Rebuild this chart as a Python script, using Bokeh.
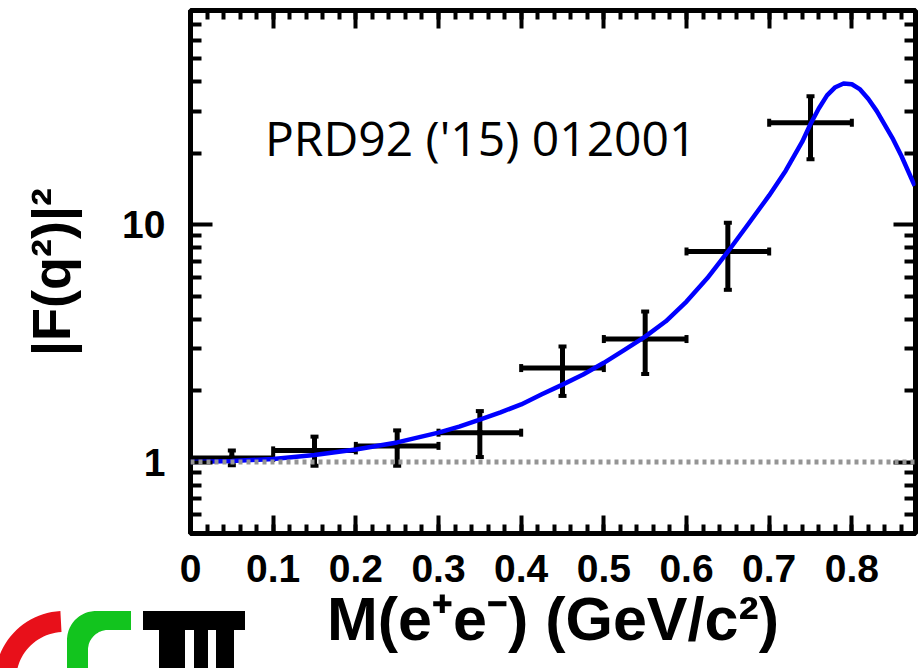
import numpy as np
from bokeh.plotting import figure
from bokeh.layouts import column
from bokeh.models import (ColumnDataSource, Whisker, TeeHead, Span, Label, LinearAxis, LogAxis,
                          FixedTicker, BasicTickFormatter, Range1d, Div)
from bokeh.embed import file_html
from bokeh.resources import INLINE

# ---------------- data ----------------
mass = [0.05, 0.15, 0.25, 0.35, 0.45, 0.55, 0.65, 0.75]
mass_err = [0.05, 0.05, 0.05, 0.05, 0.05, 0.05, 0.05, 0.05]
ff2 = [1.04, 1.12, 1.17, 1.33, 2.49, 3.30, 7.72, 26.9]
ff2_hi = [1.12, 1.28, 1.36, 1.64, 3.07, 4.31, 10.2, 34.8]
ff2_lo = [0.97, 0.965, 0.965, 1.05, 1.90, 2.35, 5.32, 18.9]

fit_mass = [0.0, 0.05, 0.10, 0.15, 0.20, 0.25, 0.30, 0.325, 0.35, 0.375, 0.40, 0.425,
            0.45, 0.475, 0.50, 0.525, 0.55, 0.575, 0.60, 0.625, 0.65, 0.675, 0.70,
            0.72, 0.74, 0.75, 0.76, 0.77, 0.78, 0.79, 0.80, 0.81, 0.82, 0.83, 0.84,
            0.85, 0.86, 0.876]
fit_ff2 = [1.00, 1.01, 1.03, 1.07, 1.13, 1.21, 1.33, 1.41, 1.51, 1.62, 1.75, 1.93,
           2.12, 2.34, 2.62, 2.97, 3.38, 3.92, 4.75, 5.95, 7.7, 10.1, 13.3,
           16.9, 22.4, 26.6, 30.9, 35.1, 38.0, 39.4, 39.1, 37.2, 33.9, 30.2, 26.3,
           22.9, 19.5, 14.6]

x_ticks = [0.0, 0.1, 0.2, 0.3, 0.4, 0.5, 0.6, 0.7, 0.8]
x_tick_labels = ["0", "0.1", "0.2", "0.3", "0.4", "0.5", "0.6", "0.7", "0.8"]
x_minor = [round(0.02 * i, 2) for i in range(0, 44)]
y_ticks = [1, 10]
y_tick_labels = ["1", "10"]
y_minor = [0.5, 0.6, 0.7, 0.8, 0.9, 2, 3, 4, 5, 6, 7, 8, 9, 20, 30, 40, 50, 60, 70, 80]

x_lim = (0.0, 0.877)
y_lim = (0.5, 80)
ref_level = 1.0

title_text = "PRD92 ('15) 012001"
x_title = "M(e\u207ae\u207b) (GeV/c\u00b2)"
y_title = "|F(q\u00b2)|\u00b2"

# ---------------- figure ----------------
FL, FR, FT, FB = 190, 8, 10, 135
FW, FH = 725, 523
p = figure(frame_width=FW, frame_height=FH, y_axis_type="log",
           x_range=Range1d(*x_lim), y_range=Range1d(*y_lim),
           output_backend="svg", toolbar_location=None,
           min_border_left=FL, min_border_right=FR, min_border_top=FT, min_border_bottom=FB,
           background_fill_color="white", border_fill_color="white")
p.xgrid.visible = False
p.ygrid.visible = False
p.outline_line_color = "black"
p.outline_line_width = 5

xt = FixedTicker(ticks=x_ticks, minor_ticks=x_minor)
yt = FixedTicker(ticks=y_ticks, minor_ticks=y_minor)
x_over = {t: l for t, l in zip(x_ticks, x_tick_labels)}
x_over[0] = "0"
y_over = {t: l for t, l in zip(y_ticks, y_tick_labels)}

FONT = "Liberation Sans"


def style_axis(ax, ticker, overrides, tick_major, tick_minor, labels=True, standoff=20):
    ax.ticker = ticker
    ax.axis_line_color = None
    ax.major_tick_in = tick_major
    ax.major_tick_out = 0
    ax.minor_tick_in = tick_minor
    ax.minor_tick_out = 0
    ax.major_tick_line_width = 4
    ax.minor_tick_line_width = 4
    ax.major_tick_line_color = "black"
    ax.minor_tick_line_color = "black"
    if labels:
        ax.major_label_overrides = overrides
        ax.major_label_text_font = FONT
        ax.major_label_text_font_style = "bold"
        ax.major_label_text_font_size = "39px"
        ax.major_label_text_color = "black"
        ax.major_label_standoff = standoff
    else:
        ax.major_label_overrides = {k: "" for k in overrides}
        ax.major_label_text_font_size = "10px"
        ax.major_label_standoff = 0


style_axis(p.xaxis[0], xt, x_over, 18, 9, standoff=21)
p.yaxis[0].formatter = BasicTickFormatter()
style_axis(p.yaxis[0], yt, y_over, 22, 11, standoff=25)
p.xaxis[0].axis_label = x_title
p.xaxis[0].axis_label_text_font = FONT
p.xaxis[0].axis_label_text_font_style = "bold"
p.xaxis[0].axis_label_text_font_size = "61px"
p.xaxis[0].axis_label_text_color = "black"
p.xaxis[0].axis_label_standoff = 0
p.yaxis[0].axis_label = y_title
p.yaxis[0].axis_label_text_font = FONT
p.yaxis[0].axis_label_text_font_style = "bold"
p.yaxis[0].axis_label_text_font_size = "54px"
p.yaxis[0].axis_label_text_color = "black"
p.yaxis[0].axis_label_standoff = 38

top_ax = LinearAxis()
style_axis(top_ax, xt, x_over, 18, 9, labels=False)
p.add_layout(top_ax, "above")
right_ax = LogAxis(formatter=BasicTickFormatter())
style_axis(right_ax, yt, y_over, 22, 11, labels=False)
p.add_layout(right_ax, "right")

# reference line at 1
p.add_layout(Span(location=ref_level, dimension="width", line_color="#959595",
                  line_width=5, line_dash="4 4"))

# error bars
src = ColumnDataSource(dict(
    x=mass, y=ff2, lo=ff2_lo, hi=ff2_hi,
    xlo=[m - e for m, e in zip(mass, mass_err)],
    xhi=[m + e for m, e in zip(mass, mass_err)]))
head = dict(size=8, line_width=4, line_color="black")
vw = Whisker(source=src, base="x", lower="lo", upper="hi", dimension="height",
             line_color="black", line_width=5,
             upper_head=TeeHead(**head), lower_head=TeeHead(**head))
hw = Whisker(source=src, base="y", lower="xlo", upper="xhi", dimension="width",
             line_color="black", line_width=5,
             upper_head=TeeHead(**head), lower_head=TeeHead(**head))
p.add_layout(vw)
p.add_layout(hw)
p.scatter("x", "y", source=src, size=6, color="black")

# fit curve
p.line(fit_mass, fit_ff2, line_color="#0000ff", line_width=4.5, line_join="round")

# publication reference
p.add_layout(Label(x=0.09, y=23.3, text=title_text, text_font="Open Sans",
                   text_font_size="48px", text_color="black", text_baseline="alphabetic"))

# ---------------- logo (bottom left, partly cut off by the page edge) ----------------
LW, LH = 250, 57
Y0 = 668 - LH


def pts(xs, ys):
    return " ".join(f"{a:.1f},{b - Y0:.1f}" for a, b in zip(xs, ys))


def arc(cx, cy, r, a0, a1, n=30):
    t = np.radians(np.linspace(a0, a1, n))
    return list(cx + r * np.cos(t)), list(cy - r * np.sin(t))


# red: thick circular arc
ox, oy = arc(64, 680, 69, 93, 200)
ix, iy = arc(64, 680, 48, 200, 93)
red = pts(ox + ix, oy + iy)

# green: square-ish "C" with rounded corner
cox, coy = arc(96, 640, 29, 90, 180)
cix, ciy = arc(108, 650, 20, 180, 90)
gx = [131] + cox + [67, 88] + cix + [131]
gy = [611] + coy + [700, 700] + ciy + [630]
green = pts(gx, gy)

svg = [f'<svg xmlns="http://www.w3.org/2000/svg" width="{LW}" height="{LH}" '
       f'style="display:block">']
svg.append(f'<polygon points="{red}" fill="#e8101a"/>')
svg.append(f'<polygon points="{green}" fill="#12c41e"/>')
for (l, r, t, b) in [(143, 245, 611, 630), (159, 185, 611, 700), (194, 208, 611, 700),
                     (216, 234, 611, 700)]:
    svg.append(f'<rect x="{l}" y="{t - Y0}" width="{r - l}" height="{b - t}" fill="black"/>')
svg.append('</svg>')
logo = Div(text="".join(svg), width=LW, height=LH, margin=(-LH, 0, 0, 0))

layout = column(p, logo, spacing=0)
open("out.html", "w").write(file_html(layout, INLINE))
